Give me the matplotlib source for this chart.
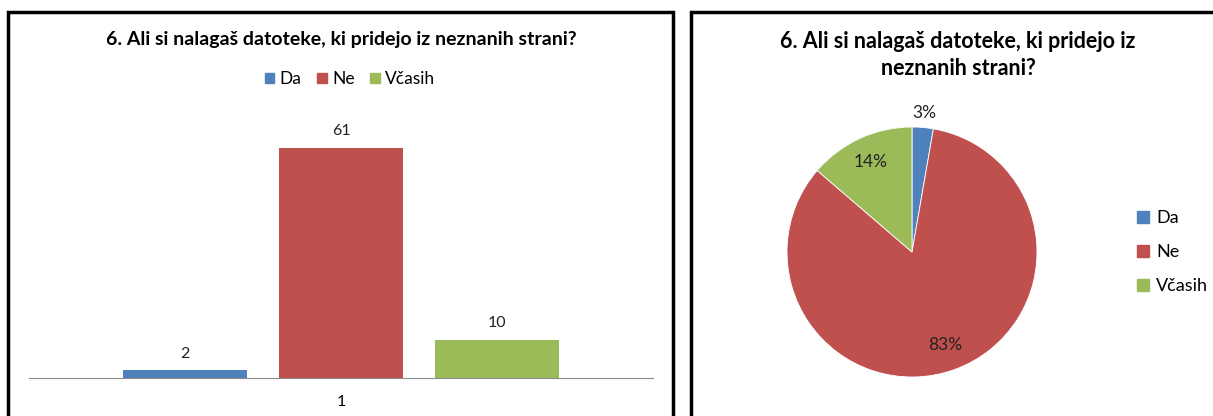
import matplotlib
matplotlib.use("Agg")
import matplotlib.pyplot as plt
from matplotlib.patches import Rectangle, Patch
import numpy as np

plt.rcParams["font.family"] = ["Lato", "DejaVu Sans"]

title = "6. Ali si nalagaš datoteke, ki pridejo iz neznanih strani?"
title_pie = "6. Ali si nalagaš datoteke, ki pridejo iz\nneznanih strani?"
categories = ["Da", "Ne", "Včasih"]
counts = [2, 61, 10]
pie_labels = ["3%", "83%", "14%"]
colors = ["#4F81BD", "#C0504D", "#9BBB59"]

W, H = 1213, 416
fig = plt.figure(figsize=(W / 100, H / 100), dpi=100)

def fx(px):
    return px / W

def fy(py):
    return 1 - py / H

# panel frames
for x0, x1 in [(8, 673), (691, 1240)]:
    fig.add_artist(Rectangle((fx(x0), fy(430)), fx(x1 - x0), (430 - 12) / H,
                             transform=fig.transFigure, fill=False,
                             edgecolor="black", lw=2.5, clip_on=False))

# bar chart
ax = fig.add_axes([fx(29), 38 / H, fx(624), 264.3 / H])
offsets = [-0.2, 0, 0.2]
for off, c, v, lab in zip(offsets, colors, counts, categories):
    ax.bar(1 + off, v, width=0.16, color=c, label=lab)
    ax.text(1 + off, v + 2.6, str(v), ha="center", va="bottom", fontsize=11.5, color="#222222")
ax.set_xlim(0.6, 1.4)
ax.set_ylim(0, 70)
for s in ["left", "right", "top"]:
    ax.spines[s].set_visible(False)
ax.spines["bottom"].set_color("#8c8c8c")
ax.set_yticks([])
ax.set_xticks([1])
ax.set_xticklabels(["1"], fontsize=11.5)
ax.tick_params(axis="x", length=0, pad=12)

fig.text(fx(341), fy(40), title, ha="center", va="center", fontsize=14, fontweight="bold")
handles = [Patch(color=c, label=l) for c, l in zip(colors, categories)]
fig.legend(handles=handles, loc="center", bbox_to_anchor=(fx(350), fy(79)), ncol=3,
           frameon=False, fontsize=12.5, handlelength=0.55, handleheight=0.55,
           handletextpad=0.3, columnspacing=0.9)

# pie chart
r = 125
pax = fig.add_axes([fx(912 - r), (H - 252 - r) / H, fx(2 * r), 2 * r / H])
wedges, texts = pax.pie(counts, colors=colors, startangle=90, counterclock=False,
                        wedgeprops=dict(edgecolor="white", linewidth=0.6))
for w, lab, dist in zip(wedges, pie_labels, [1.12, 0.79, 0.79]):
    ang = np.deg2rad((w.theta1 + w.theta2) / 2)
    pax.text(dist * np.cos(ang), dist * np.sin(ang), lab, ha="center", va="center",
             fontsize=12.5, color="#222222")
pax.set_xlim(-1, 1)
pax.set_ylim(-1, 1)

fig.text(fx(958), fy(55), title_pie, ha="center", va="center", fontsize=15.5,
         fontweight="bold", linespacing=1.35)
fig.legend(handles=handles, loc="center left", bbox_to_anchor=(fx(1121), fy(252)),
           frameon=False, fontsize=13, handlelength=0.65, handleheight=0.65,
           handletextpad=0.4, labelspacing=1.0)

fig.savefig("out.png", dpi=100)
